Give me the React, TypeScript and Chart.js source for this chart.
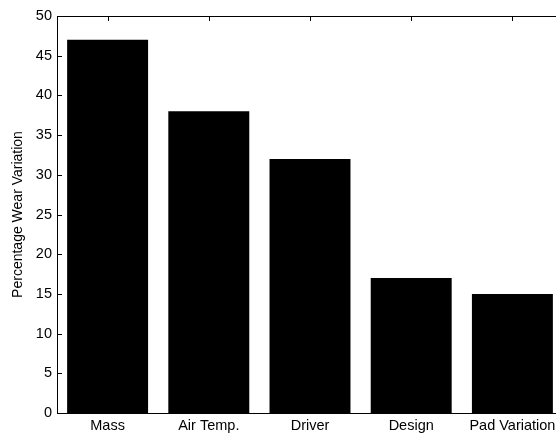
import { useEffect, useRef } from "react";
import { Chart, registerables } from "chart.js";

Chart.register(...registerables);

// Contribution of each factor to pad wear
const categories = ["Mass", "Air Temp.", "Driver", "Design", "Pad Variation"];
const wearVariation = [47, 38, 32, 17, 15];
const yMin = 0;
const yMax = 50;
const yStep = 5;
const yTitle = "Percentage Wear Variation";

const FONT = "'Liberation Sans', Arial, Helvetica, sans-serif";

// Boxed axes with short inward tick marks on all four sides
const boxFrame = {
  id: "boxFrame",
  beforeDatasetsDraw(chart: any) {
    const { ctx, chartArea: a, scales } = chart;
    const len = 5;
    ctx.save();
    ctx.strokeStyle = "#000";
    ctx.lineWidth = 1;
    ctx.beginPath();
    scales.x.ticks.forEach((_: any, i: number) => {
      const px = Math.round(scales.x.getPixelForTick(i)) + 0.5;
      ctx.moveTo(px, a.bottom);
      ctx.lineTo(px, a.bottom - len);
      ctx.moveTo(px, a.top);
      ctx.lineTo(px, a.top + len);
    });
    scales.y.ticks.forEach((_: any, i: number) => {
      const py = Math.round(scales.y.getPixelForTick(i)) + 0.5;
      ctx.moveTo(a.left, py);
      ctx.lineTo(a.left + len, py);
      ctx.moveTo(a.right, py);
      ctx.lineTo(a.right - len, py);
    });
    ctx.stroke();
    ctx.restore();
  },
  afterDatasetsDraw(chart: any) {
    const { ctx, chartArea: a } = chart;
    ctx.save();
    ctx.strokeStyle = "#000";
    ctx.lineWidth = 1;
    const l = Math.round(a.left) + 0.5;
    const t = Math.round(a.top) + 0.5;
    const r = Math.round(a.right) - 0.5;
    const b = Math.round(a.bottom) + 0.5;
    ctx.strokeRect(l, t, r - l, b - t);
    ctx.restore();
  },
};

export default function App() {
  const canvasRef = useRef<HTMLCanvasElement | null>(null);

  useEffect(() => {
    if (!canvasRef.current) return;
    const chart = new Chart(canvasRef.current, {
      type: "bar",
      data: {
        labels: categories,
        datasets: [
          {
            data: wearVariation,
            backgroundColor: "#000",
            borderWidth: 0,
            barPercentage: 0.8,
            categoryPercentage: 1,
          },
        ],
      },
      options: {
        animation: false,
        responsive: true,
        maintainAspectRatio: false,
        layout: { padding: { top: 16, right: 0, bottom: 0, left: 0 } },
        plugins: {
          legend: { display: false },
          tooltip: { enabled: false },
        },
        scales: {
          x: {
            grid: { display: false, drawTicks: false },
            border: { display: false },
            ticks: {
              color: "#000",
              font: { family: FONT, size: 14.5 },
              padding: 4,
              maxRotation: 0,
            },
            afterFit(scale: any) {
              scale.height = 22;
            },
          },
          y: {
            min: yMin,
            max: yMax,
            grid: { display: false, drawTicks: false },
            border: { display: false },
            ticks: {
              stepSize: yStep,
              color: "#000",
              font: { family: FONT, size: 14.5 },
              padding: 5,
            },
            title: {
              display: true,
              text: yTitle,
              color: "#000",
              font: { family: FONT, size: 14 },
              padding: { top: 10, bottom: 0 },
            },
            afterFit(scale: any) {
              scale.width = 57;
            },
          },
        },
      },
      plugins: [boxFrame],
    });
    return () => chart.destroy();
  }, []);

  return (
    <div
      style={{
        position: "fixed",
        left: 0,
        top: 0,
        width: 556,
        height: 435,
        overflow: "hidden",
        background: "#fff",
      }}
    >
      <div style={{ position: "relative", width: 563, height: 435 }}>
        <canvas ref={canvasRef} />
      </div>
    </div>
  );
}
